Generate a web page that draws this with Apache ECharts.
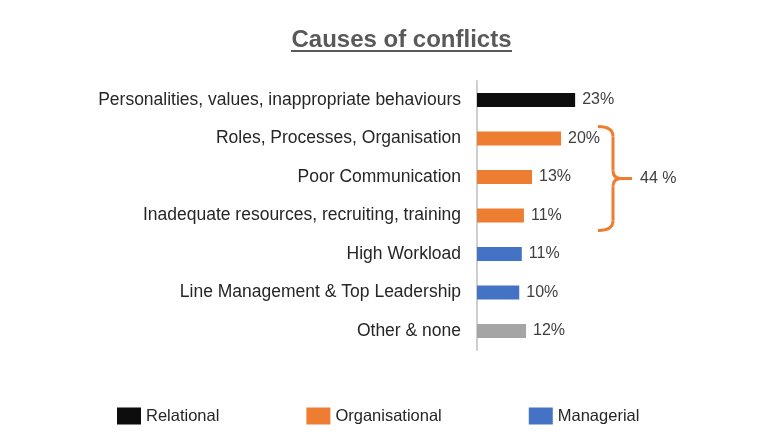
<!DOCTYPE html>
<html>
<head>
<meta charset="utf-8">
<script src="https://cdn.jsdelivr.net/npm/echarts@6/dist/echarts.min.js"></script>
<style>
  html, body { margin: 0; padding: 0; background: #fff; }
  #main { width: 768px; height: 445px; }
</style>
</head>
<body>
<div id="main"></div>
<script>
// categories top -> bottom
var categories = [
  'Personalities, values, inappropriate behaviours',
  'Roles, Processes, Organisation',
  'Poor Communication',
  'Inadequate resources, recruiting, training',
  'High Workload',
  'Line Management & Top Leadership',
  'Other & none'
];
// bar lengths (labels shown rounded)
var relational     = [23, '-', '-', '-', '-', '-', '-'];
var organisational = ['-', 19.7, 12.9, 11, '-', '-', '-'];
var managerial     = ['-', '-', '-', '-', 10.5, 9.9, '-'];
var other          = ['-', '-', '-', '-', '-', '-', 11.5];
var groupTotal = '44 %';

var FONT = 'Liberation Sans';
var ORANGE = '#ed7d31';
var chart = echarts.init(document.getElementById('main'));

function barSeries(name, data, color) {
  return {
    name: name,
    type: 'bar',
    stack: 'all',
    data: data,
    barWidth: 14,
    itemStyle: { color: color },
    label: {
      show: true,
      position: 'right',
      distance: 7,
      color: '#404040',
      fontFamily: FONT,
      fontSize: 16,
      formatter: function (p) { return Math.round(p.value) + '%'; }
    }
  };
}

var option = {
  animation: false,
  grid: { left: 477, top: 80.75, width: 128, height: 269.5 },
  xAxis: {
    type: 'value', min: 0, max: 30,
    show: false
  },
  yAxis: {
    type: 'category',
    inverse: true,
    data: categories,
    axisLine: { lineStyle: { color: '#bfbfbf', width: 1.5 } },
    axisTick: { show: false },
    axisLabel: { color: '#262626', fontFamily: FONT, fontSize: 17.5, margin: 16 }
  },
  legend: {
    data: ['Relational', 'Organisational', 'Managerial'],
    left: 112,
    top: 402.5,
    itemWidth: 24,
    itemHeight: 17,
    itemGap: 87,
    icon: 'rect',
    textStyle: { color: '#262626', fontFamily: FONT, fontSize: 16.5 }
  },
  series: [
    barSeries('Relational', relational, '#0d0d0d'),
    barSeries('Organisational', organisational, ORANGE),
    barSeries('Managerial', managerial, '#4472c4'),
    barSeries('Other', other, '#a5a5a5')
  ]
};
chart.setOption(option);

// title with underline, and curly bracket around the organisational rows
var yTop = chart.convertToPixel({ yAxisIndex: 0 }, 1) - 12;
var yBot = chart.convertToPixel({ yAxisIndex: 0 }, 3) + 15;
var yMid = (yTop + yBot) / 2;
var xs = 598, xv = 613, xt = 632;
var br = { stroke: ORANGE, lineWidth: 3, fill: null };

chart.setOption({
  graphic: [
    {
      type: 'text',
      x: 401.5, y: 40,
      style: {
        text: 'Causes of conflicts', fill: '#595959',
        font: 'bold 24px "' + FONT + '"',
        textAlign: 'center', textVerticalAlign: 'middle'
      }
    },
    {
      type: 'line',
      shape: { x1: 291, y1: 51, x2: 512, y2: 51 },
      style: { stroke: '#595959', lineWidth: 2 }
    },
    { type: 'bezierCurve', shape: { x1: xs, y1: yTop, cpx1: xv, cpy1: yTop, x2: xv, y2: yTop + 10 }, style: br },
    { type: 'line', shape: { x1: xv, y1: yTop + 10, x2: xv, y2: yMid - 8 }, style: br },
    { type: 'bezierCurve', shape: { x1: xv, y1: yMid - 8, cpx1: xv, cpy1: yMid, x2: xv + 8, y2: yMid }, style: br },
    { type: 'line', shape: { x1: xv + 8, y1: yMid, x2: xt, y2: yMid }, style: br },
    { type: 'bezierCurve', shape: { x1: xv + 8, y1: yMid, cpx1: xv, cpy1: yMid, x2: xv, y2: yMid + 8 }, style: br },
    { type: 'line', shape: { x1: xv, y1: yMid + 8, x2: xv, y2: yBot - 10 }, style: br },
    { type: 'bezierCurve', shape: { x1: xv, y1: yBot - 10, cpx1: xv, cpy1: yBot, x2: xs, y2: yBot }, style: br },
    {
      type: 'text',
      x: 640, y: yMid,
      style: {
        text: groupTotal, fill: '#404040', font: '16px "' + FONT + '"',
        textVerticalAlign: 'middle'
      }
    }
  ]
});
</script>
</body>
</html>
